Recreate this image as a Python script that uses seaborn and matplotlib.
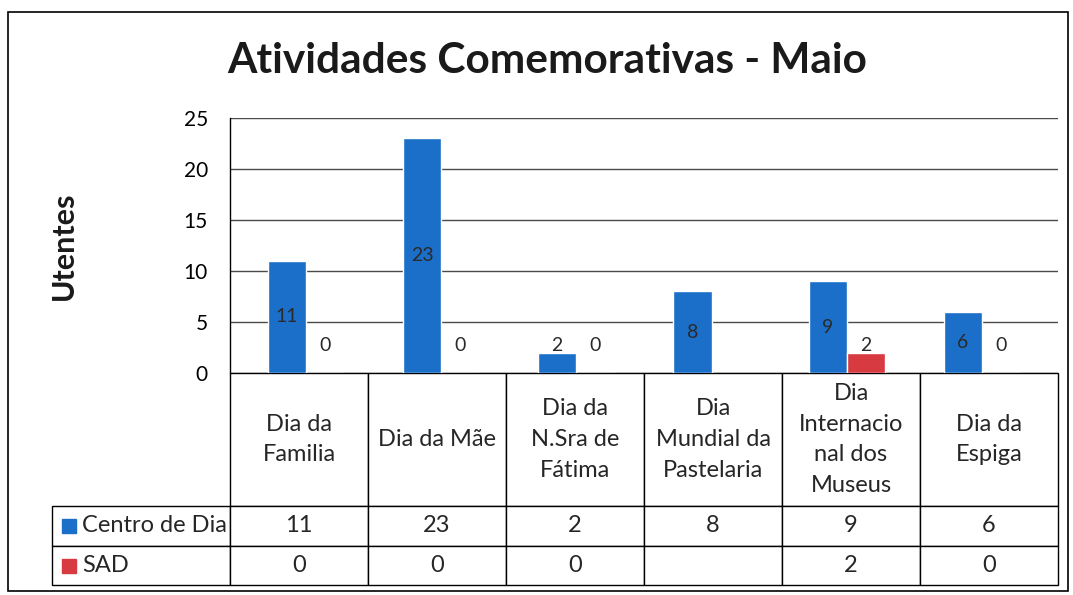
import numpy as np
import pandas as pd
import matplotlib
matplotlib.use('Agg')
import matplotlib.pyplot as plt
import seaborn as sns
from matplotlib.patches import Rectangle

# data
atividades = ['Dia da Familia', 'Dia da Mãe', 'Dia da N.Sra de Fátima',
              'Dia Mundial da Pastelaria', 'Dia Internacional dos Museus', 'Dia da Espiga']
header_labels = ['Dia da\nFamilia', 'Dia da Mãe', 'Dia da\nN.Sra de\nFátima',
                 'Dia\nMundial da\nPastelaria', 'Dia\nInternacio\nnal dos\nMuseus', 'Dia da\nEspiga']
series = ['Centro de Dia', 'SAD']
centro_dia = [11, 23, 2, 8, 9, 6]
sad = [0, 0, 0, np.nan, 2, 0]
colors = ['#1b6fc8', '#d73a40']

df = pd.DataFrame({
    'atividade': atividades * 2,
    'serie': [series[0]] * len(atividades) + [series[1]] * len(atividades),
    'utentes': centro_dia + sad,
})

sns.set_style('white')
plt.rcParams['font.family'] = ['Lato', 'DejaVu Sans']

W, H = 1073, 595
fig = plt.figure(figsize=(W / 100, H / 100), dpi=100)
ax_l, ax_r, ax_t, ax_b = 230, 1058, 118, 373
ax = fig.add_axes([ax_l / W, 1 - ax_b / H, (ax_r - ax_l) / W, (ax_b - ax_t) / H])

sns.barplot(data=df, x='atividade', y='utentes', hue='serie', hue_order=series,
            order=atividades, palette=colors, width=0.566, gap=0,
            saturation=1, legend=False, ax=ax, errorbar=None)

ax.set_ylim(0, 25)
ax.set_yticks(range(0, 26, 5))
ax.set_xlabel('')
ax.set_ylabel('')
ax.tick_params(axis='x', bottom=False, labelbottom=False)
ax.tick_params(axis='y', length=0, pad=16, labelsize=15, labelcolor='black')
ax.yaxis.grid(True, color='#4a4a4a', lw=1)
ax.set_axisbelow(True)
for s in ['top', 'right', 'bottom']:
    ax.spines[s].set_visible(False)
ax.spines['left'].set_color('black')
ax.spines['left'].set_linewidth(1)

# data labels
for cont in ax.containers:
    for p in cont:
        h = p.get_height()
        if np.isnan(h):
            continue
        ax.text(p.get_x() + p.get_width() / 2, max(h / 2, 2.7), f'{h:.0f}',
                ha='center', va='center', fontsize=14, color='#2a2a2a')

# data table under the plot (sizes in axes fractions)
pxw = ax_r - ax_l
pxh = ax_b - ax_t
tb_l = 52
label_w = (ax_l - tb_l) / pxw
row_h = {0: 133 / pxh, 1: 40 / pxh, 2: 39 / pxh}

def fmt(v):
    return '' if np.isnan(v) else f'{v:.0f}'

cell_text = [[fmt(v) for v in centro_dia], [fmt(v) for v in sad]]
tbl = ax.table(cellText=cell_text, rowLabels=series, colLabels=header_labels,
               cellLoc='center', rowLoc='left', loc='bottom')
tbl._autoColumns = []
tbl.auto_set_font_size(False)
tbl.set_fontsize(17)
for (r, c), cell in tbl.get_celld().items():
    cell.set_width(label_w if c == -1 else 1 / len(atividades))
    cell.set_height(row_h[r])
    cell.set_edgecolor('black')
    cell.set_linewidth(1)
    cell.get_text().set_linespacing(1.58)
    if c == -1:
        cell.PAD = (82 - tb_l) / (ax_l - tb_l)

# legend keys in the row label cells
y_rows = [-(row_h[0] + row_h[1] / 2), -(row_h[0] + row_h[1] + row_h[2] / 2)]
for col, yp in zip(colors, y_rows):
    ax.plot([(69 - ax_l) / pxw], [yp], 's', color=col, ms=10,
            transform=ax.transAxes, clip_on=False)

fig.text(547 / W, 1 - 73 / H, 'Atividades Comemorativas - Maio', ha='center',
         va='baseline', fontsize=30.5, weight='bold', color='#1a1a1a')
fig.text(64 / W, 1 - 246 / H, 'Utentes', rotation=90, ha='center', va='center',
         fontsize=22, weight='bold', color='#1a1a1a')

fig.patches.append(Rectangle((8 / W, 1 - 591 / H), 1060 / W, 579 / H, fill=False,
                             edgecolor='black', lw=1.2, transform=fig.transFigure))

fig.savefig('out.png', dpi=100)
